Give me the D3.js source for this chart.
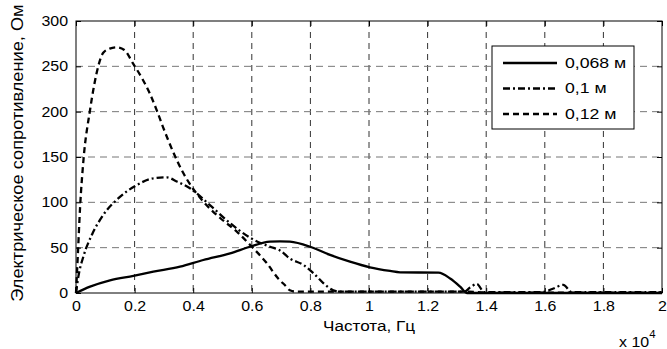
<!DOCTYPE html>
<meta charset="utf-8" />
<head>
  <script src="https://d3js.org/d3.v7.min.js"></script>
  <style>
    body { margin: 0; background: #fff; }
    text { font-family: "Liberation Sans", Arial, sans-serif; }
  </style>
</head>
<body>
  <div id="my_data"></div>
</body>
<script>
  // frequency ticks (Hz) and their labels (x 10^4)
  var xTicks = [0, 2000, 4000, 6000, 8000, 10000, 12000, 14000, 16000, 18000, 20000];
  var xTickLabels = ["0", "0.2", "0.4", "0.6", "0.8", "1", "1.2", "1.4", "1.6", "1.8", "2"];
  var yTicks = [0, 50, 100, 150, 200, 250, 300];

  // 0,068 m
  var freqA = [0, 480, 1160, 1960, 2640, 3550, 4345, 5260, 5940, 6620, 6960, 7300, 7990, 8670, 9350, 10030, 10720, 11060, 12370, 12770, 13110, 13340, 20000];
  var resA = [0, 7, 14, 19, 23.5, 29, 36.4, 43.8, 51, 56.6, 57, 56.6, 51, 42, 34.5, 28.3, 24.3, 22.8, 22.4, 16, 7, 0, 0];

  // 0,1 m
  var freqB = [0, 80, 250, 540, 930, 1500, 2070, 2640, 3100, 3440, 3890, 4570, 5260, 5940, 6620, 6960, 7300, 7760, 8100, 8440, 8780, 9000, 13250, 13450, 13680, 13930, 15900, 16300, 16630, 16920, 20000];
  var resB = [0, 18, 40, 64, 86, 106, 119, 126.5, 127.5, 123, 115.5, 97, 77, 61, 51, 47, 38, 31, 22, 11, 3, 1.5, 1.5, 6, 10, 1, 1, 5, 9, 1, 1];

  // 0,12 m
  var freqC = [0, 60, 140, 250, 480, 700, 930, 1150, 1390, 1650, 1950, 2250, 2520, 2750, 2970, 3310, 3600, 3890, 4340, 4910, 5480, 6000, 6510, 6900, 7150, 7300, 7500, 13400, 14000, 20000];
  var resC = [0, 40, 95, 145, 202, 242, 265, 269.5, 271, 268, 253, 237, 220, 202, 183, 156, 136, 120, 101, 83, 68, 51, 33, 16, 8, 3, 1.5, 1.5, 0.5, 0.5];

  var seriesNames = ["0,068 м", "0,1 м", "0,12 м"];
  var dashes = [null, "7,3,2,3", "6,4"];

  var W = 667, H = 349;
  var margin = { top: 21, right: 5, bottom: 56, left: 76 },
    width = W - margin.left - margin.right,
    height = H - margin.top - margin.bottom;

  var svg = d3
    .select("#my_data")
    .append("svg")
    .attr("width", W)
    .attr("height", H)
    .append("g")
    .attr("transform", "translate(" + margin.left + "," + margin.top + ")");

  var x = d3.scaleLinear().domain([0, 20000]).range([0, width]);
  var y = d3.scaleLinear().domain([0, 300]).range([height, 0]);

  // grid
  svg.selectAll(".vgrid")
    .data(xTicks.slice(1, -1))
    .enter()
    .append("line")
    .attr("x1", function (d) { return x(d); })
    .attr("x2", function (d) { return x(d); })
    .attr("y1", 0)
    .attr("y2", height)
    .attr("stroke", "#333")
    .attr("stroke-dasharray", "6,5");

  svg.selectAll(".hgrid")
    .data(yTicks.slice(1, -1))
    .enter()
    .append("line")
    .attr("y1", function (d) { return y(d); })
    .attr("y2", function (d) { return y(d); })
    .attr("x1", 0)
    .attr("x2", width)
    .attr("stroke", "#777")
    .attr("stroke-dasharray", "7,5");

  // curves
  var allSeries = [
    { f: freqA, r: resA },
    { f: freqB, r: resB },
    { f: freqC, r: resC }
  ];
  var line = d3.line()
    .x(function (d) { return x(d[0]); })
    .y(function (d) { return y(d[1]); })
    .curve(d3.curveMonotoneX);

  allSeries.forEach(function (s, i) {
    svg.append("path")
      .datum(d3.zip(s.f, s.r))
      .attr("d", line)
      .attr("fill", "none")
      .attr("stroke", "#000")
      .attr("stroke-width", 2.3)
      .attr("stroke-dasharray", dashes[i]);
  });

  // axes (ticks inside, box on)
  var fmtX = function (d) { return xTickLabels[xTicks.indexOf(d)]; };
  svg.append("g")
    .attr("transform", "translate(0," + height + ")")
    .call(d3.axisBottom(x).tickValues(xTicks).tickFormat(fmtX).tickSizeInner(-5).tickSizeOuter(0).tickPadding(8));
  svg.append("g")
    .call(d3.axisTop(x).tickValues(xTicks).tickFormat("").tickSizeInner(-5).tickSizeOuter(0));
  svg.append("g")
    .call(d3.axisLeft(y).tickValues(yTicks).tickSizeInner(-5).tickSizeOuter(0).tickPadding(8));
  svg.append("g")
    .attr("transform", "translate(" + width + ",0)")
    .call(d3.axisRight(y).tickValues(yTicks).tickFormat("").tickSizeInner(-5).tickSizeOuter(0));

  svg.selectAll(".domain").remove();
  svg.selectAll(".tick line").attr("stroke", "#000");
  svg.selectAll(".tick text")
    .attr("fill", "#000")
    .style("font-size", "14px")
    .style("font-family", "'Liberation Sans', Arial, sans-serif");

  svg.append("rect")
    .attr("width", width)
    .attr("height", height)
    .attr("fill", "none")
    .attr("stroke", "#000")
    .attr("stroke-width", 1);

  // axis labels
  svg.append("text")
    .attr("x", width / 2)
    .attr("y", height + 38)
    .attr("text-anchor", "middle")
    .style("font-size", "15px")
    .text("Частота, Гц");

  var mult = svg.append("text")
    .attr("x", width - 43)
    .attr("y", height + 54)
    .style("font-size", "14px");
  mult.append("tspan").text("x 10");
  mult.append("tspan").attr("dy", -9).style("font-size", "10px").text("4");

  svg.append("text")
    .attr("transform", "rotate(-90)")
    .attr("x", -height / 2 + 4)
    .attr("y", -margin.left + 23)
    .attr("text-anchor", "middle")
    .style("font-size", "16px")
    .text("Электрическое сопротивление, Ом");

  // legend
  var lg = svg.append("g")
    .attr("transform", "translate(" + (492 - margin.left) + "," + (46 - margin.top) + ")");
  lg.append("rect")
    .attr("width", 142)
    .attr("height", 83)
    .attr("fill", "#fff")
    .attr("stroke", "#000");
  seriesNames.forEach(function (name, i) {
    var ly = 17 + i * 25.5;
    lg.append("line")
      .attr("x1", 11)
      .attr("x2", 65)
      .attr("y1", ly)
      .attr("y2", ly)
      .attr("stroke", "#000")
      .attr("stroke-width", 2.3)
      .attr("stroke-dasharray", dashes[i]);
    lg.append("text")
      .attr("x", 73)
      .attr("y", ly + 5)
      .style("font-size", "15.5px")
      .text(name);
  });

  // the original text is a bit wider than Arial: stretch along the baseline
  svg.selectAll("text").each(function () {
    var t = d3.select(this);
    var ax = +t.attr("x") || 0, ay = +t.attr("y") || 0;
    var prev = t.attr("transform") || "";
    t.attr("transform", prev + " translate(" + ax + "," + ay + ") scale(1.14,1) translate(" + -ax + "," + -ay + ")");
  });
</script>
